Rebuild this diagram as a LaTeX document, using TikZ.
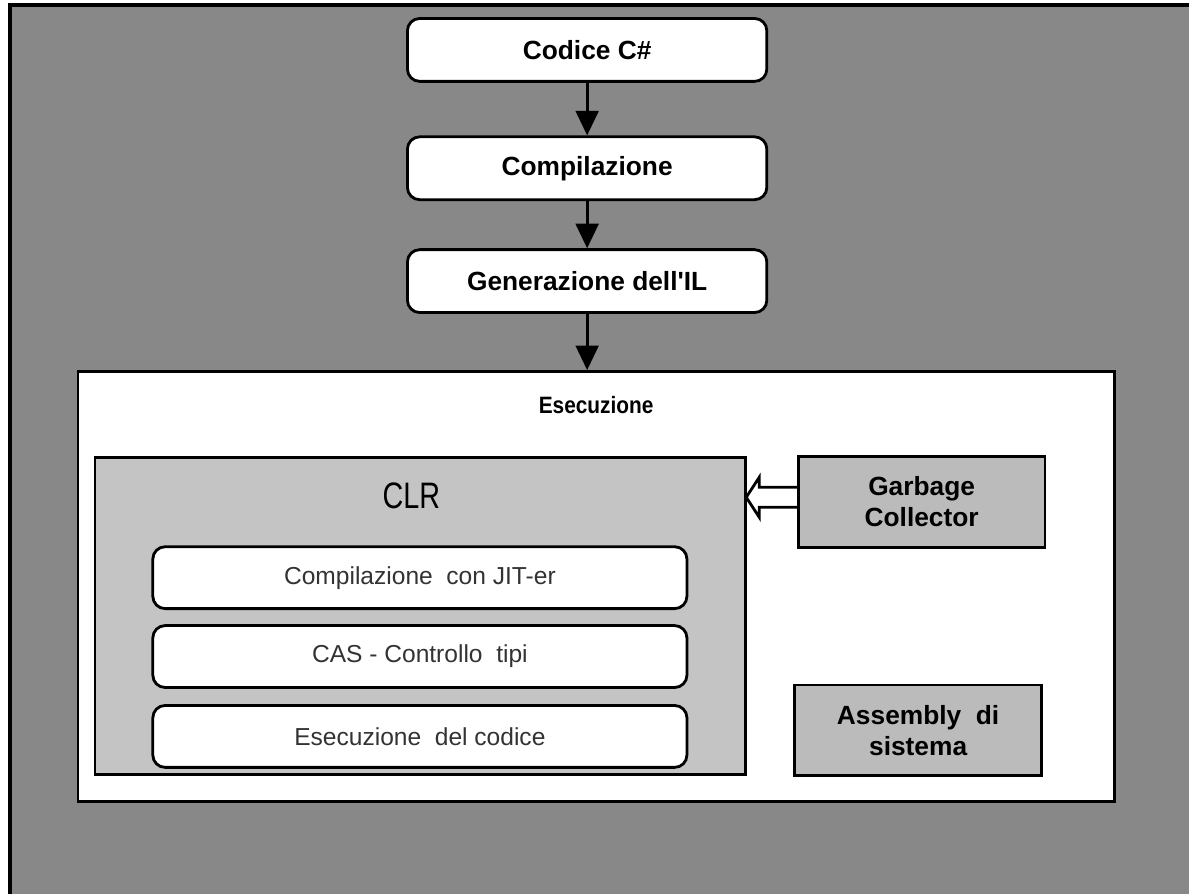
\documentclass[tikz,border=0pt]{standalone}
\usepackage{fontspec}
\setmainfont{Liberation Sans}[Ligatures=TeXOff]
\newfontfamily\narrowfont{Liberation Sans}[FakeStretch=0.78]
\usetikzlibrary{arrows.meta,calc}
\definecolor{bggrey}{HTML}{888888}
\definecolor{clrgrey}{HTML}{C4C4C4}
\definecolor{boxgrey}{HTML}{BBBBBB}
\definecolor{txtgrey}{HTML}{333333}
\tikzset{
  box/.style = {draw=black, line width=1.6pt, inner sep=0pt, align=center},
  flow_n/.style = {box, rounded corners=7pt, fill=white, minimum width=7.2cm,
    minimum height=1.26cm, font=\fontsize{15}{18}\selectfont\bfseries},% passi del flusso
  clr_n/.style = {box, rounded corners=7pt, fill=white, minimum width=10.7cm,
    minimum height=1.24cm, text=txtgrey, font=\fontsize{14}{17}\selectfont},% fasi nel CLR
  side_n/.style = {box, fill=boxgrey, minimum width=4.94cm, minimum height=1.82cm,
    font=\fontsize{15}{18}\selectfont\bfseries},% blocchi laterali
  flow_a/.style = {line width=1.6pt, -{Triangle[length=14pt,width=13pt]}}
}
\begin{document}
\begin{tikzpicture}[x=0.02cm, y=-0.02cm]
	% sfondo
	\fill[white] (0,0) rectangle (1191,895);
	\fill[bggrey] (10,5) rectangle (1191,895);
	\draw[line width=2pt] (10,895) -- (10,5) -- (1191,5);
	% flusso
	\node [flow_n] (code) at (588,50) {Codice C\#};
	\node [flow_n] (comp) at (588,168.5) {Compilazione};
	\node [flow_n] (gen) at (588,281.5) {Generazione dell'IL};
	% esecuzione
	\node [box, fill=white, minimum width=20.76cm, minimum height=8.62cm] (exec) at (597,587.5) {};
	\node [font=\fontsize{13.5}{16}\selectfont\bfseries, xscale=0.88] (exec_l) at (597,406) {Esecuzione};
	\node [box, fill=clrgrey, minimum width=13.04cm, minimum height=6.36cm] (clr) at (421,617) {};
	\node [font=\fontsize{21}{25}\selectfont\narrowfont] (clr_l) at (412,497) {CLR};
	\node [clr_n] (jit) at (420.5,578.5) {Compilazione\ \ con JIT-er};
	\node [clr_n] (cas) at (420.5,657.5) {CAS - Controllo\ \ tipi};
	\node [clr_n] (run) at (420.5,737.5) {Esecuzione\ \ del codice};
	\node [side_n] (gc) at (923,502.5) {Garbage\\Collector};
	\node [side_n] (asm) at (919.5,731.5) {Assembly\ \ di\\sistema};
	% frecce
	\draw [flow_a] (code) -- (comp);
	\draw [flow_a] (comp) -- (gen);
	\draw [flow_a] (gen.south) -- (gen.south |- exec.north);
	\coordinate (gc_out) at ($(gc.west)+(0,-4.5)$);
	\coordinate (clr_in) at ($(clr.east |- gc_out)+(-1,0)$);
	\draw [line width=1.6pt, fill=white, line join=miter]
	  ($(gc_out)+(0,-10)$) -- ($(clr_in)+(13,-10)$) -- ++(0,-10) -- (clr_in)
	  -- ++(13,20) -- ++(0,-10) -- ($(gc_out)+(0,10)$);
\end{tikzpicture}
\end{document}
